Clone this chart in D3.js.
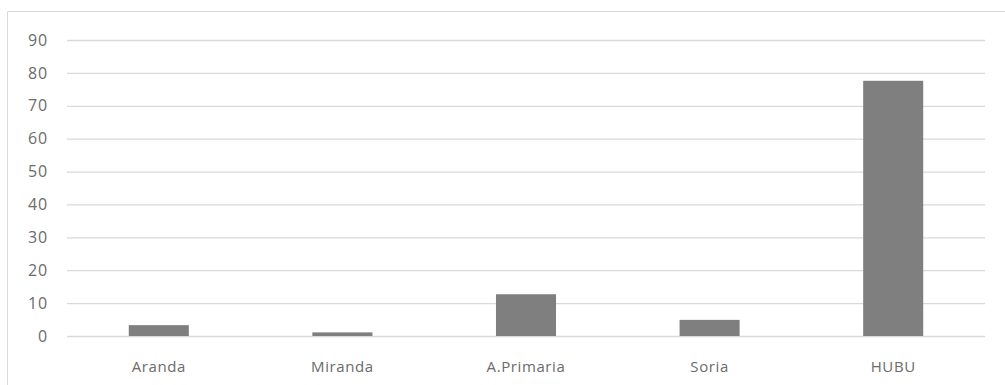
<!DOCTYPE html>
<html><head><meta charset="utf-8">
<script src="https://cdn.jsdelivr.net/npm/d3@7"></script>
<style>body{margin:0;background:#fff}svg{display:block}</style>
</head><body>
<script>
const categories = ["Aranda", "Miranda", "A.Primaria", "Soria", "HUBU"];
const values = [3.3, 1.1, 12.7, 4.9, 77.6];
const yTicks = [0, 10, 20, 30, 40, 50, 60, 70, 80, 90];

const W = 1005, H = 385;
const svg = d3.select("body").append("svg").attr("width", W).attr("height", H);

// chart frame (left and top edges visible)
svg.append("path").attr("d", "M7.5,385 V11.5 H1005").attr("fill", "none")
  .attr("stroke", "#d9d9d9").attr("stroke-width", 1);

const mLeft = 67, mRight = 985, mTop = 40, mBottom = 336;
const x = d3.scaleBand().domain(categories).range([mLeft, mRight]).paddingInner(0.673).paddingOuter(0.3365);
const y = d3.scaleLinear().domain([0, 90]).range([mBottom, mTop]);

const font = "'Open Sans', sans-serif";

const yAxis = svg.append("g").attr("transform", `translate(${mLeft},0)`)
  .call(d3.axisLeft(y).tickValues(yTicks).tickSize(-(mRight - mLeft)).tickPadding(19));
yAxis.select(".domain").remove();
yAxis.selectAll(".tick line").attr("stroke", "#d9d9d9").attr("stroke-width", 1.3);
yAxis.selectAll(".tick text").attr("fill", "#6b6b6b").attr("font-size", "16px")
  .attr("letter-spacing", "0.8px").attr("font-family", font);

svg.append("g").selectAll("rect").data(values).join("rect")
  .attr("x", (d, i) => x(categories[i]))
  .attr("width", x.bandwidth())
  .attr("y", d => y(d))
  .attr("height", d => y(0) - y(d))
  .attr("fill", "#7f7f7f");

const xAxis = svg.append("g").attr("transform", `translate(0,${mBottom})`)
  .call(d3.axisBottom(x).tickSize(0).tickPadding(25));
xAxis.select(".domain").remove();
xAxis.selectAll(".tick text").attr("fill", "#6b6b6b").attr("font-size", "15px")
  .attr("letter-spacing", "0.6px").attr("font-family", font);
</script>
</body></html>
